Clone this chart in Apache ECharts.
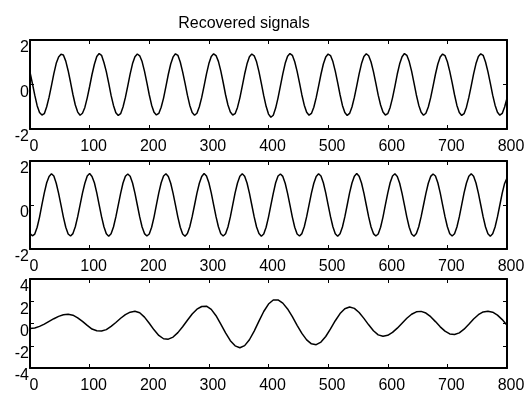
<!DOCTYPE html>
<html><head><meta charset="utf-8">
<script src="https://cdn.jsdelivr.net/npm/echarts@6/dist/echarts.min.js"></script>
<style>html,body{margin:0;padding:0;background:#fff}#c{width:531px;height:394px}</style>
</head><body><div id="c"></div>
<script>
const titleText = 'Recovered signals';
const xMin = 0, xMax = 800, xTickStep = 100;
const yLimits1 = [-2, 2], yLimits2 = [-2, 2], yLimits3 = [-4, 4];
const yTickStep = 2;

// signal 1: one value every 4 samples (x = 0..800)
const sig1Step = 4;
const sig1 = [
 0.55, 0.05, -0.48, -0.95, -1.26, -1.37, -1.31, -1.00, -0.57, -0.05, 0.49, 0.95, 1.24, 1.36, 1.33, 1.05,
 0.62, 0.10, -0.45, -0.92, -1.24, -1.38, -1.29, -1.03, -0.60, -0.09, 0.45, 0.91, 1.26, 1.39, 1.31, 0.99,
 0.58, 0.06, -0.49, -0.94, -1.27, -1.39, -1.31, -1.01, -0.58, -0.06, 0.48, 0.94, 1.25, 1.37, 1.29, 1.03,
 0.60, 0.08, -0.46, -0.93, -1.25, -1.37, -1.30, -1.02, -0.61, -0.08, 0.46, 0.92, 1.24, 1.38, 1.31, 1.01,
 0.57, 0.06, -0.48, -0.94, -1.26, -1.38, -1.29, -1.00, -0.58, -0.06, 0.48, 0.94, 1.26, 1.38, 1.30, 1.04,
 0.61, 0.09, -0.46, -0.92, -1.24, -1.37, -1.31, -1.03, -0.60, -0.07, 0.47, 0.93, 1.25, 1.37, 1.29, 1.02,
 0.58, 0.05, -0.50, -0.98, -1.33, -1.47, -1.38, -1.06, -0.60, -0.06, 0.48, 0.95, 1.27, 1.39, 1.31, 1.02,
 0.59, 0.07, -0.47, -0.93, -1.25, -1.38, -1.30, -1.02, -0.59, -0.07, 0.46, 0.92, 1.24, 1.37, 1.30, 1.03,
 0.60, 0.08, -0.46, -0.94, -1.26, -1.39, -1.30, -1.01, -0.58, -0.06, 0.48, 0.94, 1.26, 1.38, 1.29, 1.01,
 0.58, 0.06, -0.48, -0.92, -1.24, -1.37, -1.31, -1.03, -0.60, -0.08, 0.47, 0.93, 1.25, 1.39, 1.31, 1.03,
 0.60, 0.07, -0.47, -0.93, -1.25, -1.38, -1.29, -1.01, -0.59, -0.07, 0.46, 0.92, 1.24, 1.37, 1.30, 1.02,
 0.59, 0.08, -0.46, -0.94, -1.26, -1.39, -1.31, -1.02, -0.58, -0.06, 0.48, 0.94, 1.26, 1.38, 1.31, 1.01,
 0.58, 0.06, -0.48, -0.93, -1.25, -1.38, -1.30, -1.01, -0.62
];

// signal 2: one value every 4 samples
const sig2Step = 4;
const sig2 = [
 -1.30, -1.40, -1.32, -1.01, -0.55, 0.02, 0.55, 1.01, 1.30, 1.42, 1.32, 0.99, 0.53, -0.01, -0.55, -1.01,
 -1.32, -1.41, -1.30, -0.99, -0.53, 0.01, 0.54, 0.99, 1.32, 1.43, 1.30, 1.01, 0.55, 0.01, -0.53, -0.99,
 -1.31, -1.42, -1.31, -1.00, -0.54, -0.01, 0.53, 1.00, 1.31, 1.41, 1.31, 1.00, 0.54, 0.00, -0.54, -1.00,
 -1.30, -1.41, -1.32, -1.01, -0.55, 0.01, 0.55, 1.01, 1.32, 1.42, 1.30, 0.99, 0.53, -0.01, -0.55, -1.01,
 -1.32, -1.42, -1.30, -0.99, -0.53, 0.00, 0.54, 0.99, 1.30, 1.43, 1.32, 1.01, 0.55, 0.01, -0.53, -0.99,
 -1.31, -1.41, -1.31, -1.00, -0.54, 0.01, 0.55, 1.00, 1.31, 1.42, 1.31, 1.00, 0.54, 0.00, -0.54, -1.00,
 -1.30, -1.42, -1.32, -1.01, -0.55, -0.01, 0.53, 1.01, 1.32, 1.41, 1.30, 0.99, 0.53, -0.01, -0.55, -1.01,
 -1.32, -1.41, -1.30, -0.99, -0.53, 0.01, 0.54, 0.99, 1.30, 1.42, 1.32, 1.01, 0.55, 0.01, -0.53, -0.99,
 -1.31, -1.42, -1.31, -1.00, -0.54, 0.00, 0.55, 1.00, 1.31, 1.43, 1.31, 1.00, 0.54, 0.00, -0.54, -1.00,
 -1.30, -1.41, -1.32, -1.01, -0.55, 0.01, 0.54, 1.01, 1.32, 1.42, 1.30, 0.99, 0.53, -0.01, -0.55, -1.01,
 -1.32, -1.42, -1.30, -0.99, -0.53, 0.00, 0.53, 0.99, 1.30, 1.41, 1.32, 1.01, 0.55, 0.01, -0.53, -0.99,
 -1.31, -1.41, -1.31, -1.00, -0.54, 0.01, 0.55, 1.00, 1.31, 1.42, 1.31, 1.00, 0.54, 0.00, -0.54, -1.00,
 -1.31, -1.42, -1.31, -1.00, -0.54, 0.00, 0.54, 0.98, 1.22
];

// signal 3: one value every 8 samples
const sig3Step = 8;
const sig3 = [
 -0.45, -0.40, -0.26, -0.05, 0.19, 0.43, 0.64, 0.78, 0.83, 0.75,
 0.51, 0.19, -0.17, -0.50, -0.65, -0.67, -0.55, -0.26, 0.09, 0.47,
 0.80, 1.02, 1.10, 0.96, 0.57, 0.02, -0.57, -1.07, -1.37, -1.41,
 -1.22, -0.82, -0.29, 0.29, 0.85, 1.29, 1.53, 1.56, 1.27, 0.70,
 -0.05, -0.84, -1.54, -2.01, -2.18, -1.99, -1.46, -0.68, 0.22, 1.08,
 1.75, 2.11, 2.12, 1.83, 1.31, 0.61, -0.16, -0.89, -1.47, -1.83,
 -1.90, -1.67, -1.17, -0.49, 0.25, 0.89, 1.33, 1.49, 1.36, 0.99,
 0.46, -0.12, -0.65, -1.02, -1.15, -1.06, -0.80, -0.42, 0.03, 0.47,
 0.83, 1.05, 1.09, 0.94, 0.61, 0.17, -0.30, -0.69, -0.94, -0.99,
 -0.84, -0.51, -0.07, 0.40, 0.79, 1.04, 1.10, 1.02, 0.75, 0.35,
 -0.15
];

const FONT = "'Liberation Sans', Arial, sans-serif";
const grids = [
  {left: 30, top: 40, width: 477, height: 89},
  {left: 30, top: 161, width: 477, height: 88},
  {left: 30, top: 279, width: 477, height: 89}
];
const yLims = [yLimits1, yLimits2, yLimits3];
const sigs = [[sig1, sig1Step], [sig2, sig2Step], [sig3, sig3Step]];

const lineStyle = {color: '#000', width: 2};
const tickStyle = {show: true, inside: true, length: 4, lineStyle: {color: '#000', width: 1}};

const xAxes = [], yAxes = [], series = [];
grids.forEach((g, i) => {
  xAxes.push({type: 'value', gridIndex: i, position: 'bottom', min: xMin, max: xMax, interval: xTickStep,
    axisLine: {show: true, onZero: false, lineStyle}, axisTick: tickStyle, splitLine: {show: false},
    axisLabel: {show: true, color: '#000', fontFamily: FONT, fontSize: 16, margin: 10, padding: [0, 0, 0, 8],
      showMinLabel: true, showMaxLabel: true}});
  xAxes.push({type: 'value', gridIndex: i, position: 'top', min: xMin, max: xMax, interval: xTickStep,
    axisLine: {show: true, onZero: false, lineStyle}, axisTick: tickStyle, splitLine: {show: false},
    axisLabel: {show: false}});
  yAxes.push({type: 'value', gridIndex: i, position: 'left', min: yLims[i][0], max: yLims[i][1], interval: yTickStep,
    axisLine: {show: true, onZero: false, lineStyle}, axisTick: tickStyle, splitLine: {show: false},
    axisLabel: {show: true, color: '#000', fontFamily: FONT, fontSize: 16, margin: 1, verticalAlign: 'top',
      showMinLabel: true, showMaxLabel: true}});
  yAxes.push({type: 'value', gridIndex: i, position: 'right', min: yLims[i][0], max: yLims[i][1], interval: yTickStep,
    axisLine: {show: true, onZero: false, lineStyle}, axisTick: tickStyle, splitLine: {show: false},
    axisLabel: {show: false}});
  const [vals, step] = sigs[i];
  series.push({type: 'line', xAxisIndex: 2 * i, yAxisIndex: 2 * i, showSymbol: false, symbol: 'none',
    data: vals.map((v, k) => [k * step, v]),
    lineStyle: {color: '#000', width: 1.5}, silent: true, animation: false});
});

const chart = echarts.init(document.getElementById('c'), null, {renderer: 'canvas'});
chart.setOption({
  animation: false,
  backgroundColor: '#fff',
  title: {text: titleText, left: 239, top: 11, textAlign: 'center',
    textStyle: {fontFamily: FONT, fontSize: 16, fontWeight: 'normal', color: '#000'}},
  grid: grids,
  xAxis: xAxes,
  yAxis: yAxes,
  series
});
</script>
</body></html>
